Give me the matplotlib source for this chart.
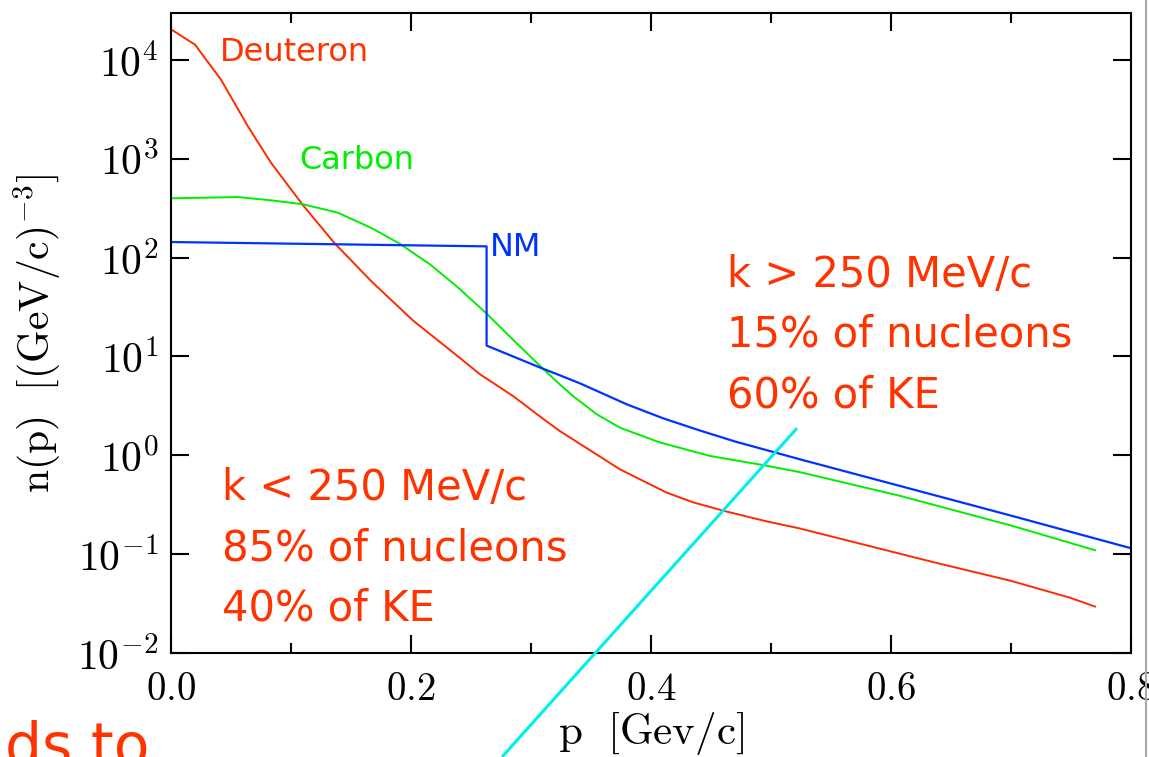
import numpy as np
import matplotlib
matplotlib.use("Agg")
import matplotlib.pyplot as plt
from matplotlib.ticker import FixedLocator, FixedFormatter, MultipleLocator

plt.rcParams['mathtext.fontset'] = 'cm'
plt.rcParams['mathtext.default'] = 'rm'

# momentum distributions: p in GeV/c, log10 of n(p) in (GeV/c)^-3
deut_p = [0.0, 0.02, 0.0417, 0.064, 0.0833, 0.11, 0.136, 0.167, 0.202, 0.23, 0.2575,
          0.285, 0.31, 0.324, 0.374, 0.413, 0.435, 0.46, 0.497, 0.524, 0.635, 0.70, 0.749, 0.77]
deut_logn = [4.31, 4.155, 3.80, 3.33, 2.96, 2.53, 2.15, 1.76, 1.36, 1.09, 0.82,
             0.60, 0.37, 0.246, -0.141, -0.377, -0.475, -0.56, -0.67, -0.74, -1.08, -1.27, -1.44, -1.53]

carb_p = [0.0, 0.0556, 0.0833, 0.11, 0.139, 0.167, 0.191, 0.216, 0.238, 0.2625, 0.285,
          0.31, 0.324, 0.335, 0.355, 0.374, 0.4075, 0.449, 0.494, 0.524, 0.6075, 0.70, 0.77]
carb_logn = [2.60, 2.613, 2.58, 2.54, 2.455, 2.30, 2.138, 1.93, 1.71, 1.44, 1.17,
             0.876, 0.717, 0.60, 0.414, 0.28, 0.13, -0.006, -0.10, -0.17, -0.41, -0.71, -0.96]

nm_p = [0.0, 0.263, 0.263, 0.31, 0.324, 0.341, 0.38, 0.41, 0.441, 0.47, 0.503, 0.524, 0.6075, 0.70, 0.80]
nm_logn = [2.158, 2.114, 1.11, 0.876, 0.81, 0.727, 0.515, 0.375, 0.25, 0.14, 0.03, -0.04, -0.31, -0.61, -0.94]

# cyan guide line drawn across the plot on the slide
cut_p = [0.2767, 0.5208]
cut_logn = [-3.04, 0.263]

xticks = [0.0, 0.2, 0.4, 0.6, 0.8]
xtick_labels = ['$0.0$', '$0.2$', '$0.4$', '$0.6$', '$0.8$']
yticks = [1e-2, 1e-1, 1e0, 1e1, 1e2, 1e3, 1e4]
ytick_labels = ['$10^{-2}$', '$10^{-1}$', '$10^{0}$', '$10^{1}$', '$10^{2}$', '$10^{3}$', '$10^{4}$']

upper_lines = ['k > 250 MeV/c', '15% of nucleons', '60% of KE']
lower_lines = ['k < 250 MeV/c', '85% of nucleons', '40% of KE']

RED = '#ff2a00'
TXT_RED = '#ff3300'
GREEN = '#00ee00'
BLUE = '#0033ff'
CYAN = '#00eeee'
hand = ['DejaVu Sans']

fig = plt.figure(figsize=(11.49, 7.57), dpi=100)
ax = fig.add_axes([171 / 1149, 1 - 653 / 757, 960 / 1149, 640 / 757])

ax.plot(deut_p, np.power(10.0, deut_logn), color=RED, lw=1.4)
ax.plot(carb_p, np.power(10.0, carb_logn), color=GREEN, lw=1.4)
ax.plot(nm_p, np.power(10.0, nm_logn), color=BLUE, lw=1.6)
ax.plot(cut_p, np.power(10.0, cut_logn), color=CYAN, lw=2.2, clip_on=False, zorder=5)

ax.set_yscale('log')
ax.set_xlim(0, 0.8)
ax.set_ylim(1e-2, 10 ** 4.475)

ax.xaxis.set_major_locator(FixedLocator(xticks))
ax.xaxis.set_major_formatter(FixedFormatter(xtick_labels))
ax.xaxis.set_minor_locator(MultipleLocator(0.1))
ax.yaxis.set_major_locator(FixedLocator(yticks))
ax.yaxis.set_major_formatter(FixedFormatter(ytick_labels))
ax.yaxis.set_minor_locator(FixedLocator([]))

ax.tick_params(which='both', direction='in', top=True, right=True, width=1.5, color='black')
ax.tick_params(which='major', length=13)
ax.tick_params(which='minor', length=7)
ax.tick_params(axis='x', labelsize=28, pad=12)
ax.tick_params(axis='y', labelsize=30, pad=9)
for s in ax.spines.values():
    s.set_linewidth(1.5)

ax.set_xlabel(r'$\mathrm{p\ \ [Gev/c]}$', fontsize=31, labelpad=2)
ax.set_ylabel(r'$\mathrm{n(p)\ \ [(GeV/c)^{-3}]}$', fontsize=30, labelpad=10)

ax.text(0.051, 0.939, 'Deuteron', color=TXT_RED, fontsize=23, family=hand,
        transform=ax.transAxes, va='center')
ax.text(0.134, 0.770, 'Carbon', color=GREEN, fontsize=23, family=hand,
        transform=ax.transAxes, va='center')
ax.text(0.332, 0.634, 'NM', color=BLUE, fontsize=23, family=hand,
        transform=ax.transAxes, va='center')

for i, line in enumerate(upper_lines):
    ax.text(0.579, 0.591 - i * 0.094, line, color=TXT_RED, fontsize=30, family=hand,
            transform=ax.transAxes, va='center')
for i, line in enumerate(lower_lines):
    ax.text(0.053, 0.258 - i * 0.094, line, color=TXT_RED, fontsize=30, family=hand,
            transform=ax.transAxes, va='center')

# leftover slide text and slide edge
fig.text(0.004, -0.011, 'ds to', color=TXT_RED, fontsize=42, family=hand, va='baseline')
fig.add_artist(plt.Line2D([1146 / 1149, 1146 / 1149], [0, 1], color='#aaaaaa', lw=1.5))

fig.savefig('out.png', dpi=100)
